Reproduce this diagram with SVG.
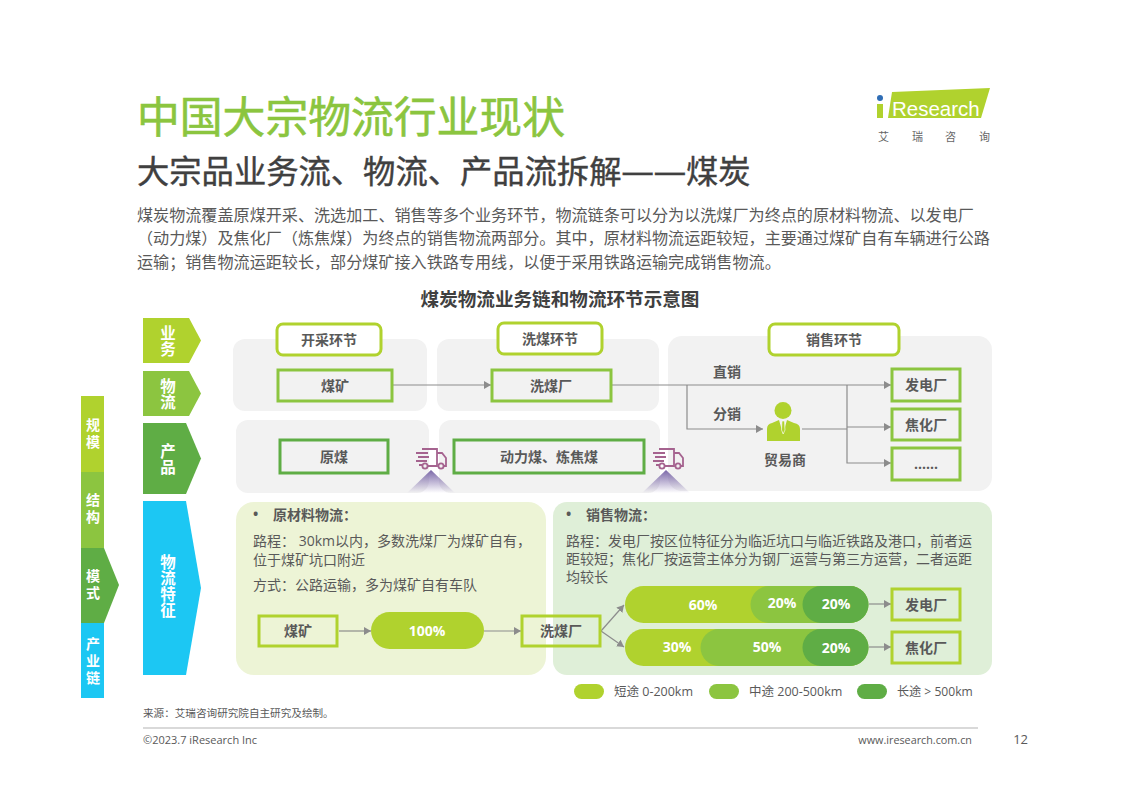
<svg xmlns="http://www.w3.org/2000/svg" width="1122" height="793" viewBox="0 0 1122 793">
<style>
text{font-family:"Open Sans","Noto Sans CJK SC","Noto Sans",sans-serif;fill:#595959}
.b{font-weight:700;text-anchor:middle;font-size:14px}
.w{font-weight:700;text-anchor:middle;font-size:15.500px;fill:#fff;writing-mode:vertical-rl;text-orientation:upright;letter-spacing:.5px}
.ws{font-weight:700;text-anchor:middle;font-size:14px;fill:#fff;writing-mode:vertical-rl;text-orientation:upright;letter-spacing:3px}
.p{fill:#f2f2f2}
.tag{fill:#fff;stroke:#b0d22e;stroke-width:3}
.box{fill:#f2f2f2;stroke:#8cc540;stroke-width:3}
.box2{fill:#f2f2f2;stroke:#5fad45;stroke-width:3}
.box3{fill:none;stroke:#b0d22e;stroke-width:3}
.t{font-size:14px}
.l{fill:none;stroke:#8c8c8c;stroke-width:1.200}
.pct{font-weight:700;text-anchor:middle;font-size:14px;fill:#fff}
.leg{font-size:12.500px}
.body{font-size:16.100px}
.tr{fill:none;stroke:#a5638f;stroke-width:1.800}
</style>
<defs>
<marker id="a" markerUnits="userSpaceOnUse" markerWidth="8" markerHeight="8" refX="7" refY="4" orient="auto"><path d="M0 0L7 4L0 8Z" fill="#8c8c8c"/></marker>
<linearGradient id="g" x1="0" y1="0" x2="0" y2="1"><stop offset="0" stop-color="#7a67a8"/><stop offset="1" stop-color="#7a67a8" stop-opacity="0"/></linearGradient>
<g id="truck"><path class="tr" d="M7 1H22V18H12M22 5H27L31 10V18H29M1 5H13M3 9H14M1 13H12M4 17H8"/><circle class="tr" cx="10" cy="18" r="2.600"/><circle class="tr" cx="26" cy="18" r="2.600"/></g>
</defs>
<rect width="1122" height="793" fill="#fff"/>

<g id="header">
<text x="137" y="133" style="font-size:42.800px;fill:#8bc53f;stroke:#8bc53f;stroke-width:.6">中国大宗物流行业现状</text>
<text x="137" y="183" style="font-size:32.300px;fill:#404040;stroke:#404040;stroke-width:.4">大宗品业务流、物流、产品流拆解——煤炭</text>
<text class="body" x="137" y="221">煤炭物流覆盖原煤开采、洗选加工、销售等多个业务环节，物流链条可以分为以洗煤厂为终点的原材料物流、以发电厂</text>
<text class="body" x="137" y="244">（动力煤）及焦化厂（炼焦煤）为终点的销售物流两部分。其中，原材料物流运距较短，主要通过煤矿自有车辆进行公路</text>
<text class="body" x="137" y="268">运输；销售物流运距较长，部分煤矿接入铁路专用线，以便于采用铁路运输完成销售物流。</text>
<text x="560" y="306" style="font-size:18.600px;font-weight:700;text-anchor:middle;fill:#404040">煤炭物流业务链和物流环节示意图</text>
</g>

<g id="logo">
<path d="M892 92L990 88L981 118H888Z" fill="#b0d22e"/>
<circle cx="880" cy="98" r="3" fill="#2f6db5"/>
<rect x="877" y="104" width="6" height="14" fill="#b0d22e"/>
<text x="892" y="116" style="font-size:20.500px;font-family:'Liberation Sans',sans-serif;fill:#fff">Research</text>
<text x="878" y="141" style="font-size:11px;fill:#666">艾</text>
<text x="912" y="141" style="font-size:11px;fill:#666">瑞</text>
<text x="945" y="141" style="font-size:11px;fill:#666">咨</text>
<text x="979" y="141" style="font-size:11px;fill:#666">询</text>
</g>

<g id="side-bar">
<rect x="81" y="396" width="23" height="76" fill="#b0d22e"/>
<rect x="81" y="472" width="23" height="76" fill="#8cc540"/>
<path d="M81 548H104L119 585L104 623H81Z" fill="#5fad45"/>
<rect x="81" y="623" width="23" height="75" fill="#1cc7f3"/>
<text class="ws" x="92.500" y="435">规模</text>
<text class="ws" x="92.500" y="510">结构</text>
<text class="ws" x="92.500" y="586">模式</text>
<text class="ws" x="92.500" y="662">产业链</text>
</g>

<g id="row-yewu"><path d="M143 318H189L201 340.500L189 363H143Z" fill="#b0d22e"/><text class="w" x="167" y="341">业务</text></g>
<g id="row-wuliu"><path d="M143 371H189L201 393.500L189 416H143Z" fill="#8cc540"/><text class="w" x="167" y="394">物流</text></g>
<g id="row-chanpin"><path d="M143 423H186L201 458.500L186 494H143Z" fill="#5fad45"/><text class="w" x="167" y="459">产品</text></g>
<g id="row-tezheng"><path d="M143 501H186L201 588L186 675H143Z" fill="#1cc7f3"/><text class="w" x="167" y="586">物流特征</text></g>

<g id="panels">
<rect class="p" x="233" y="339" width="194" height="72" rx="12"/>
<rect class="p" x="437" y="339" width="222" height="72" rx="12"/>
<rect class="p" x="668" y="336" width="324" height="155" rx="14"/>
<rect class="p" x="236" y="420" width="193" height="73" rx="12"/>
<rect class="p" x="439" y="420" width="221" height="73" rx="12"/>
<rect x="236" y="502" width="310" height="173" rx="18" fill="#edf4d6"/>
<rect x="553" y="502" width="439" height="173" rx="14" fill="#dfefd8"/>
</g>

<g id="connectors">
<path class="l" d="M393 385H491" marker-end="url(#a)"/>
<path class="l" d="M612 385H891" marker-end="url(#a)"/>
<path class="l" d="M687 385V429H763" marker-end="url(#a)"/>
<path class="l" d="M802 429H847"/>
<path class="l" d="M847 385V463H891" marker-end="url(#a)"/>
<path class="l" d="M847 427H891" marker-end="url(#a)"/>
<path class="l" d="M339 631H371" marker-end="url(#a)"/>
<path class="l" d="M484 631H521" marker-end="url(#a)"/>
<path class="l" d="M601 631L624 605" marker-end="url(#a)"/>
<path class="l" d="M601 631L624 647" marker-end="url(#a)"/>
<path class="l" d="M869 604H891" marker-end="url(#a)"/>
<path class="l" d="M869 647H891" marker-end="url(#a)"/>
</g>

<g id="tag-kaicai"><rect class="tag" x="277" y="324" width="104" height="31" rx="6"/><text class="b" x="329" y="345">开采环节</text></g>
<g id="tag-ximei"><rect class="tag" x="498" y="323" width="104" height="31" rx="6"/><text class="b" x="550" y="344">洗煤环节</text></g>
<g id="tag-xiaoshou"><rect class="tag" x="769" y="324" width="130" height="31" rx="6"/><text class="b" x="834" y="345">销售环节</text></g>

<g id="n-meikuang"><rect class="box" x="278" y="370" width="114" height="31"/><text class="b" x="335" y="391">煤矿</text></g>
<g id="n-ximeichang"><rect class="box" x="492" y="370" width="119" height="31"/><text class="b" x="551" y="391">洗煤厂</text></g>
<g id="n-yuanmei"><rect class="box2" x="280" y="440" width="108" height="33"/><text class="b" x="334" y="462">原煤</text></g>
<g id="n-coal"><rect class="box2" x="454" y="440" width="190" height="33"/><text class="b" x="549" y="462">动力煤、炼焦煤</text></g>
<g id="n-fadian"><rect class="box" x="892" y="369" width="68" height="32"/><text class="b" x="926" y="390">发电厂</text></g>
<g id="n-jiaohua"><rect class="box" x="892" y="409" width="68" height="31"/><text class="b" x="926" y="430">焦化厂</text></g>
<g id="n-dots"><rect class="box" x="892" y="448" width="68" height="32"/><text class="b" x="926" y="469">......</text></g>

<g id="labels"><text class="b" x="727" y="377">直销</text><text class="b" x="727" y="419">分销</text></g>

<g id="trader">
<circle cx="783" cy="410.500" r="8.500" fill="#b0d22e"/>
<path d="M767 429Q767 424 772 423L779 420L783 434L787 420L794 423Q800 424 800 429V441H767Z" fill="#b0d22e"/>
<path d="M782 421H784.500L785 430L783.200 434L781.500 430Z" fill="#b0d22e" stroke="#fff" stroke-width=".6"/>
<text class="b" x="785" y="465">贸易商</text>
</g>

<g id="truck-1"><use href="#truck" x="415" y="448"/><path d="M431 470L407 493H455Z" fill="url(#g)"/></g>
<g id="truck-2"><use href="#truck" x="652" y="448"/><path d="M666 470L642 493H690Z" fill="url(#g)"/></g>

<g id="raw-text">
<text class="t" x="253" y="519" style="font-weight:700">•</text>
<text class="t" x="273" y="520" style="font-weight:700">原材料物流：</text>
<text class="t" x="253" y="546">路程： 30km以内，多数洗煤厂为煤矿自有，</text>
<text class="t" x="253" y="565">位于煤矿坑口附近</text>
<text class="t" x="253" y="590">方式：公路运输，多为煤矿自有车队</text>
</g>
<g id="sale-text">
<text class="t" x="566" y="519" style="font-weight:700">•</text>
<text class="t" x="586" y="520" style="font-weight:700">销售物流：</text>
<text class="t" x="566" y="546">路程：发电厂按区位特征分为临近坑口与临近铁路及港口，前者运</text>
<text class="t" x="566" y="564">距较短；焦化厂按运营主体分为钢厂运营与第三方运营，二者运距</text>
<text class="t" x="566" y="582">均较长</text>
</g>

<g id="n-meikuang2"><rect class="box3" x="259" y="616" width="78" height="30"/><text class="b" x="298" y="636">煤矿</text></g>
<g id="n-100"><rect x="371" y="612" width="113" height="37" rx="18.500" fill="#b0d22e"/><text class="pct" x="427" y="636">100%</text></g>
<g id="n-ximei2"><rect class="box3" x="522" y="616" width="78" height="30"/><text class="b" x="561" y="636">洗煤厂</text></g>

<g id="bar-1">
<rect x="625" y="586" width="243" height="37" rx="18.500" fill="#b0d22e"/>
<path d="M769 586H850a18.500 18.500 0 0 1 0 37H769a18.500 18.500 0 0 1 0-37Z" fill="#8cc540"/>
<path d="M821 586H850a18.500 18.500 0 0 1 0 37H821a18.500 18.500 0 0 1 0-37Z" fill="#5fad45"/>
<text class="pct" x="703" y="610">60%</text><text class="pct" x="782" y="608">20%</text><text class="pct" x="836" y="609">20%</text>
</g>
<g id="bar-2">
<rect x="625" y="629" width="243" height="37" rx="18.500" fill="#b0d22e"/>
<path d="M719 629H850a18.500 18.500 0 0 1 0 37H719a18.500 18.500 0 0 1 0-37Z" fill="#8cc540"/>
<path d="M821 629H850a18.500 18.500 0 0 1 0 37H821a18.500 18.500 0 0 1 0-37Z" fill="#5fad45"/>
<text class="pct" x="677" y="652">30%</text><text class="pct" x="767" y="652">50%</text><text class="pct" x="836" y="653">20%</text>
</g>
<g id="n-fadian2"><rect class="box3" x="892" y="589" width="68" height="31"/><text class="b" x="926" y="610">发电厂</text></g>
<g id="n-jiaohua2"><rect class="box3" x="892" y="632" width="68" height="31"/><text class="b" x="926" y="653">焦化厂</text></g>

<g id="legend">
<rect x="574" y="684" width="30" height="15" rx="7.500" fill="#b0d22e"/><text class="leg" x="614" y="696">短途 0-200km</text>
<rect x="709" y="684" width="30" height="15" rx="7.500" fill="#8cc540"/><text class="leg" x="749" y="696">中途 200-500km</text>
<rect x="857" y="684" width="30" height="15" rx="7.500" fill="#5fad45"/><text class="leg" x="897" y="696" style="font-size:12.100px">长途 &gt; 500km</text>
</g>

<g id="footer">
<text x="143" y="717" style="font-size:10.600px">来源：艾瑞咨询研究院自主研究及绘制。</text>
<line x1="143" y1="728" x2="978" y2="728" stroke="#b3b3b3" stroke-width="1.200"/>
<text x="143" y="744" style="font-size:11px">©2023.7 iResearch Inc</text>
<text x="972" y="744" style="font-size:10.800px;text-anchor:end">www.iresearch.com.cn</text>
<text x="1028" y="744" style="font-size:13px;text-anchor:end">12</text>
</g>
</svg>
